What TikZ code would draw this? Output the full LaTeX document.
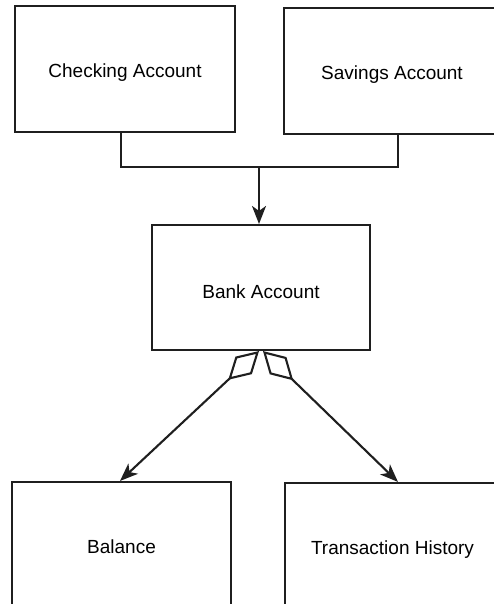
\documentclass[tikz,border=0pt]{standalone}
\usepackage{fontspec}
\setmainfont{Liberation Sans}
\usetikzlibrary{arrows.meta}
\begin{document}
\begin{tikzpicture}[x=1pt,y=-1pt,
  box/.style={draw=black!88,line width=2.1pt,fill=white,inner sep=0pt,text height=17pt,text depth=0pt,font=\fontsize{19}{22}\selectfont},
  conn/.style={draw=black!88,line width=2.1pt},
  tipS/.style={},
  arr/.style={conn,-{Stealth[length=18pt,width=14pt,inset=5pt]}},
  agg/.style={conn,{Diamond[open,length=42pt,width=24pt,fill=white]}-{Stealth[length=18pt,width=14pt,inset=5pt]}}]
\clip (0,0) rectangle (494,604);
\fill[white] (0,0) rectangle (494,604);
\node[box,minimum width=220pt,minimum height=126pt] (check) at (125,69) {Checking Account};
\node[box,minimum width=216pt,minimum height=126pt] (save) at (392,71) {Savings Account};
\node[box,minimum width=218pt,minimum height=125pt,text height=22pt] (bank) at (261,287.5) {Bank Account};
\node[box,minimum width=219pt,minimum height=126pt] (bal) at (121.5,545) {Balance};
\node[box,minimum width=215pt,minimum height=126pt] (trans) at (392.5,546) {Transaction History};
\coordinate (j) at (259,167);
\draw[conn] ([xshift=-4pt]check.south) |- (j) -| ([xshift=6pt]save.south);
\draw[arr] (j) -- (j |- bank.north);
\draw[agg] ([xshift=-2pt]bank.south) -- ([xshift=-1.5pt]bal.north);
\draw[agg] ([xshift=2pt]bank.south) -- ([xshift=5.5pt]trans.north);
\end{tikzpicture}
\end{document}
